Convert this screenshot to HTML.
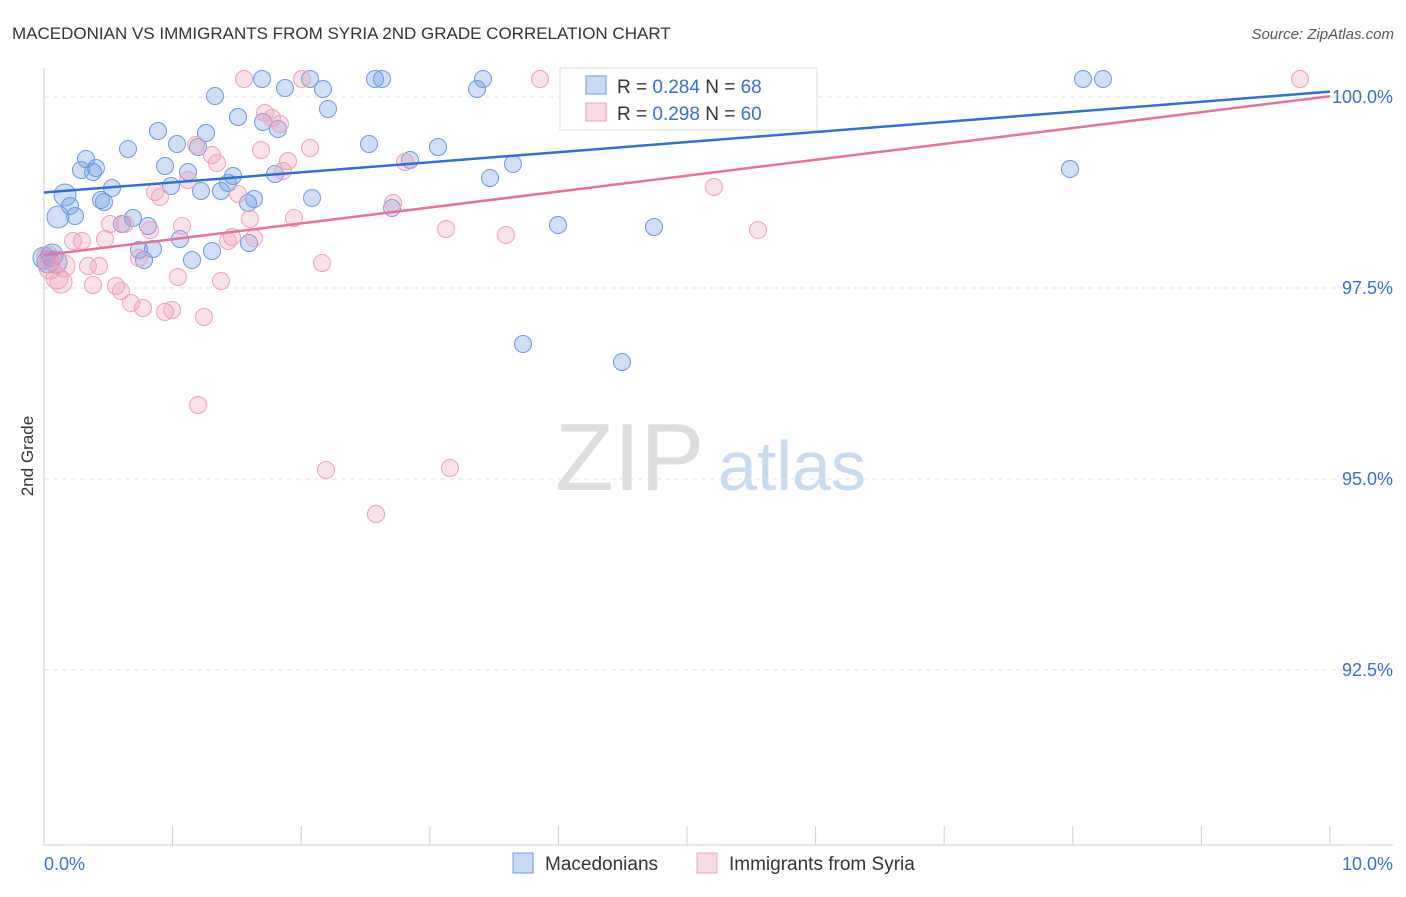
<!DOCTYPE html>
<html><head><meta charset="utf-8"><style>
body{margin:0;background:#fff;font-family:"Liberation Sans",sans-serif}
svg text{font-family:"Liberation Sans",sans-serif}
</style></head><body>
<svg id="c" width="1406" height="892">
<text x="12" y="39" font-size="17" fill="#333">MACEDONIAN VS IMMIGRANTS FROM SYRIA 2ND GRADE CORRELATION CHART</text>
<text x="1394" y="39" font-size="15" fill="#555" font-style="italic" text-anchor="end">Source: ZipAtlas.com</text>
<text transform="translate(33,456) rotate(-90)" font-size="17" fill="#333" text-anchor="middle">2nd Grade</text>
<g><text x="555" y="490" font-size="96" fill="#ddd" font-family="Liberation Serif">ZIP</text><text x="718" y="490" font-size="70" fill="#c8daf0">atlas</text></g>
<g id="grid"></g><g id="axes"></g><g id="pts"></g><g id="lines"></g>
<g>
<rect x="560" y="68" width="257" height="62" fill="#fff" stroke="#ddd"/>
<rect x="586" y="76" width="20" height="18" fill="rgba(100,150,230,0.35)" stroke="#6a9be0"/>
<text x="617" y="93" font-size="19" fill="#333">R = <tspan fill="#3a6fd0">0.284</tspan>   N = <tspan fill="#3a6fd0">68</tspan></text>
<rect x="586" y="103" width="20" height="18" fill="rgba(240,150,180,0.35)" stroke="#f0a0bb"/>
<text x="617" y="120" font-size="19" fill="#333">R = <tspan fill="#3a6fd0">0.298</tspan>   N = <tspan fill="#3a6fd0">60</tspan></text>
</g>
<g>
<rect x="513" y="853" width="20" height="20" fill="rgba(100,150,230,0.35)" stroke="#6a9be0"/>
<text x="545" y="870" font-size="19" fill="#333">Macedonians</text>
<rect x="697" y="853" width="20" height="20" fill="rgba(240,150,180,0.35)" stroke="#f0a0bb"/>
<text x="729" y="870" font-size="19" fill="#333">Immigrants from Syria</text>
</g>
</svg>
<script>
const yTicks=[100,97.5,95,92.5];
const xTickLabels=["0.0%","10.0%"];
const bluePx=[[262,79],[310,79],[375,79],[382,79],[483,79],[578,79],[1083,79],[1103,79],[215,96],[285,88],[323,89],[477,89],[328,109],[238,117],[263,122],[278,129],[158,131],[206,133],[177,144],[198,147],[128,149],[369,144],[438,147],[410,160],[86,159],[165,166],[81,170],[93,172],[96,168],[188,172],[275,174],[513,164],[490,178],[1070,169],[233,176],[228,183],[112,188],[171,186],[201,191],[221,191],[65,195],[254,199],[312,198],[104,202],[101,200],[248,203],[392,208],[70,206],[75,216],[58,217],[133,218],[122,224],[148,226],[558,225],[654,227],[180,239],[139,250],[153,249],[212,251],[249,243],[192,260],[144,260],[52,255],[48,262],[523,344],[622,362],[44,258],[56,262]];
const pinkPx=[[244,79],[302,79],[540,79],[792,79],[1300,79],[265,113],[272,118],[280,124],[196,145],[310,148],[261,150],[212,155],[217,163],[288,161],[405,162],[283,171],[188,180],[155,192],[160,197],[238,194],[714,187],[393,203],[110,224],[125,224],[182,226],[150,230],[250,219],[294,218],[446,229],[506,235],[758,230],[105,239],[73,241],[82,241],[232,237],[228,241],[254,238],[139,258],[88,266],[99,266],[64,266],[50,268],[57,278],[61,282],[322,263],[178,277],[221,281],[93,285],[116,286],[121,291],[131,303],[143,308],[165,312],[172,310],[204,317],[198,405],[326,470],[450,468],[376,514],[48,257]];
// convert to data units (x in %, y in %)
const blueX=bluePx.map(p=>(p[0]-44)/128.6), blueY=bluePx.map(p=>100-(p[1]-97)/76.4);
const pinkX=pinkPx.map(p=>(p[0]-44)/128.6), pinkY=pinkPx.map(p=>100-(p[1]-97)/76.4);
const blueTrend=[98.75,100.07], pinkTrend=[97.93,100.01];
const sx=v=>44+v*128.6, sy=v=>97+(100-v)*76.4;
const NS="http://www.w3.org/2000/svg";
function mk(t,a,p){const e=document.createElementNS(NS,t);for(const k in a)e.setAttribute(k,a[k]);p.appendChild(e);return e;}
const grid=document.getElementById('grid'),axes=document.getElementById('axes');
yTicks.forEach(v=>{const l=mk('line',{x1:44,x2:1393,y1:sy(v),y2:sy(v),stroke:'#e2e2e2','stroke-dasharray':'5,4'},grid);


const t=mk('text',{x:1393,y:sy(v)+6,'font-size':18,fill:'#3a6fd0','text-anchor':'end'},axes);t.textContent=v.toFixed(1)+'%';

});
mk('line',{x1:44,x2:44,y1:68,y2:845,stroke:'#ccc'},axes);
mk('line',{x1:44,x2:1393,y1:845,y2:845,stroke:'#ccc'},axes);
for(let i=0;i<=10;i++){const t=mk('line',{x1:sx(i),x2:sx(i),y1:826,y2:845,stroke:'#ccc'},axes);

}
const xl0=mk('text',{x:44,y:870,'font-size':18,fill:'#3a6fd0'},axes);xl0.textContent=xTickLabels[0];


const xl1=mk('text',{x:1393,y:870,'font-size':18,fill:'#3a6fd0','text-anchor':'end'},axes);xl1.textContent=xTickLabels[1];


const pts=document.getElementById('pts');
function draw(xs,ys,fill,stroke,name){xs.forEach((x,i)=>{const r=(x<0.2)?11:8.5;
const c=mk('circle',{cx:sx(x),cy:sy(ys[i]),r:r,fill:fill,stroke:stroke,'stroke-width':1},pts);

});}
draw(blueX,blueY,'rgba(100,150,230,0.3)','#6a9be0','macedonian-point');
draw(pinkX,pinkY,'rgba(240,150,180,0.28)','#f0a0bb','syria-point');
const lines=document.getElementById('lines');
const bl=mk('line',{x1:sx(0),y1:sy(blueTrend[0]),x2:sx(10),y2:sy(blueTrend[1]),stroke:'#2f6fd6','stroke-width':2.5},lines);


const pl=mk('line',{x1:sx(0),y1:sy(pinkTrend[0]),x2:sx(10),y2:sy(pinkTrend[1]),stroke:'#e8709a','stroke-width':2.5},lines);


</script>
</body></html>
